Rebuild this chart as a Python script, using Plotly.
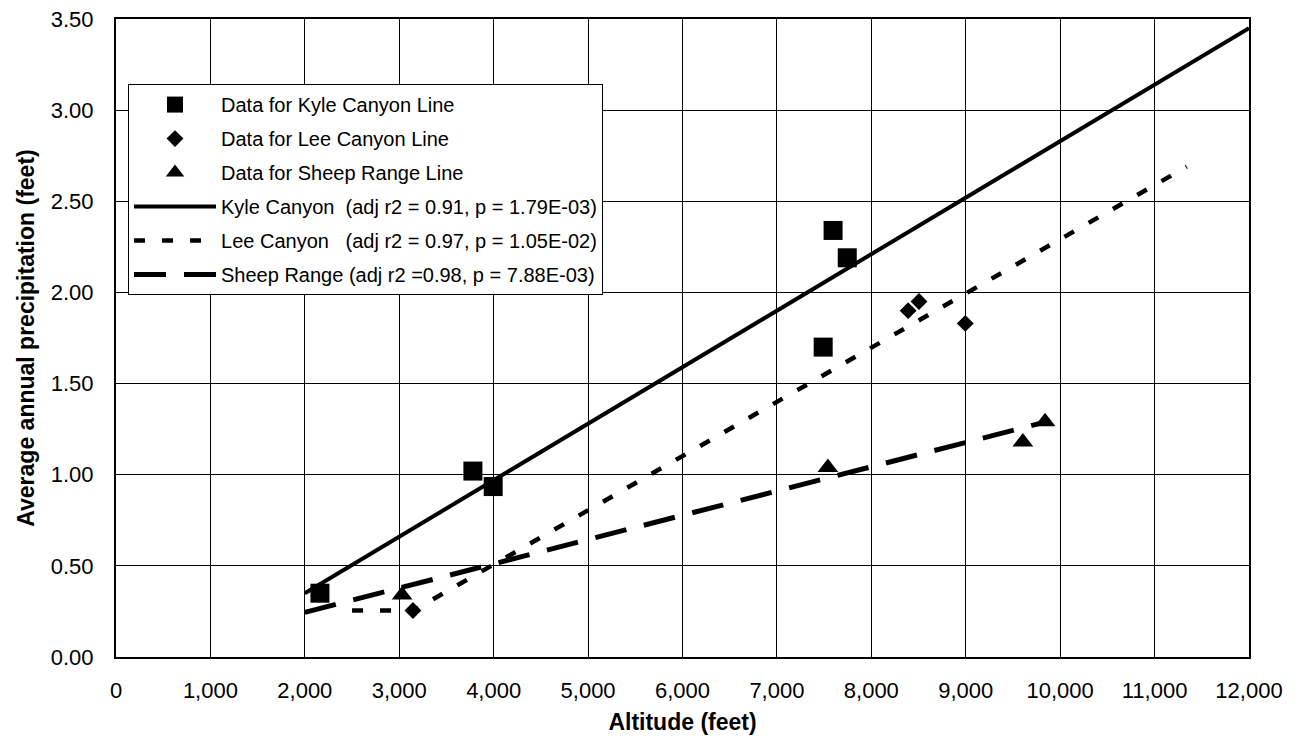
import plotly.graph_objects as go

# Data
kyle_x = [2160, 3780, 3995, 7490, 7595, 7745]
kyle_y = [0.35, 1.02, 0.935, 1.70, 2.34, 2.19]
lee_x = [3145, 8390, 8505, 8995]
lee_y = [0.255, 1.90, 1.95, 1.83]
sheep_x = [3030, 7540, 9605, 9840]
sheep_y = [0.34, 1.04, 1.18, 1.29]

kyle_line_x = [2000, 12000]
kyle_line_y = [0.35, 3.45]
lee_line_x = [2500, 3150, 11340]
lee_line_y = [0.255, 0.255, 2.69]
sheep_line_x = [2000, 9850]
sheep_line_y = [0.245, 1.29]

x_ticks = list(range(0, 12001, 1000))
y_ticks = [i * 0.5 for i in range(8)]

FONT = "Liberation Sans, Arial, sans-serif"

fig = go.Figure()
fig.add_trace(go.Scatter(x=kyle_x, y=kyle_y, mode="markers", name="Data for Kyle Canyon Line",
                         marker=dict(symbol="square", size=19, color="black"), legendgroup="a"))
fig.add_trace(go.Scatter(x=lee_x, y=lee_y, mode="markers", name="Data for Lee Canyon Line",
                         marker=dict(symbol="diamond", size=13, color="black"), legendgroup="b"))
fig.add_trace(go.Scatter(x=sheep_x, y=sheep_y, mode="markers", name="Data for Sheep Range Line",
                         marker=dict(symbol="triangle-up", size=18, color="black"), legendgroup="c"))
fig.add_trace(go.Scatter(x=kyle_line_x, y=kyle_line_y, mode="lines",
                         name="Kyle Canyon  (adj r2 = 0.91, p = 1.79E-03)",
                         line=dict(color="black", width=4), legendgroup="d"))
fig.add_trace(go.Scatter(x=lee_line_x, y=lee_line_y, mode="lines",
                         name="Lee Canyon   (adj r2 = 0.97, p = 1.05E-02)",
                         line=dict(color="black", width=4.5, dash="11px,17px"), legendgroup="e"))
fig.add_trace(go.Scatter(x=sheep_line_x, y=sheep_line_y, mode="lines",
                         name="Sheep Range (adj r2 =0.98, p = 7.88E-03)",
                         line=dict(color="black", width=5, dash="32px,18px"), legendgroup="f"))

# The page body adds an 8px margin, so the figure is sized to fit inside the window
fig.update_layout(
    width=1285, height=727,
    margin=dict(l=108, r=44, t=11, b=78),
    paper_bgcolor="white", plot_bgcolor="white",
    font=dict(family=FONT, color="black", size=22),
    legend=dict(x=0.0106, y=0.898, xanchor="left", yanchor="top",
                bordercolor="black", borderwidth=1, bgcolor="white",
                font=dict(size=20), tracegroupgap=5, itemwidth=82),
    xaxis=dict(range=[0, 12000], tickvals=x_ticks, tickformat=",",
               showgrid=True, gridcolor="black", gridwidth=1,
               showline=True, linecolor="black", linewidth=2, mirror=True,
               ticks="", zeroline=False, automargin=False, ticklabelstandoff=13,
               ticklabeloverflow="allow",
               title=dict(text="<b>Altitude (feet)</b>", font=dict(size=23), standoff=22),
               tickfont=dict(size=22)),
    yaxis=dict(range=[0, 3.5], tickvals=y_ticks, tickformat=".2f",
               showgrid=True, gridcolor="black", gridwidth=1,
               showline=True, linecolor="black", linewidth=2, mirror=True,
               ticks="", zeroline=False, automargin=False, ticklabelstandoff=16,
               ticklabeloverflow="allow",
               title=dict(text="<b>Average annual precipitation (feet)</b>", font=dict(size=23), standoff=10),
               tickfont=dict(size=22)),
)

fig.write_html("out.html")
